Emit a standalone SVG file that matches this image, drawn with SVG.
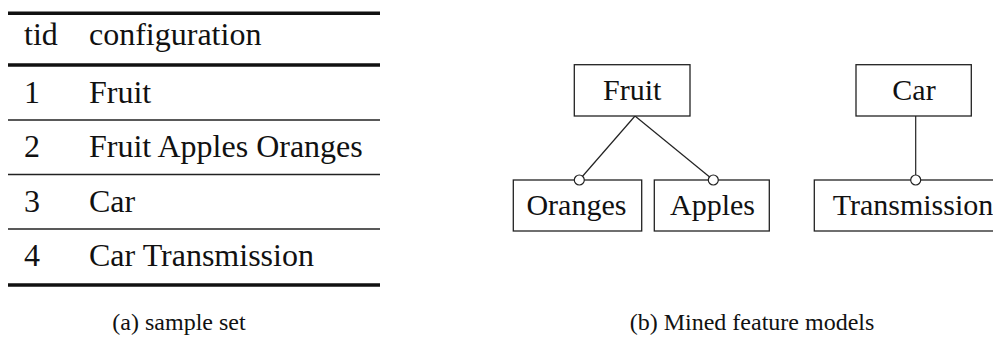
<svg xmlns="http://www.w3.org/2000/svg" width="993" height="342" viewBox="0 0 993 342">
<style>
text{font-family:'Liberation Serif','Tinos','DejaVu Serif','Times New Roman',serif;fill:#111}
.tb{font-size:32px}
.nd{font-size:30px;text-anchor:middle}
.cap{font-size:24px;text-anchor:middle}
.thick{stroke:#111;stroke-width:3.4}
.thin{stroke:#222;stroke-width:1.3}
.box{fill:#fff;stroke:#222;stroke-width:1.3}
.edge{stroke:#222;stroke-width:1.2;fill:none}
.opt{fill:#fff;stroke:#222;stroke-width:1.2}
</style>
<rect width="993" height="342" fill="#fff"/>
<g id="table">
<line class="thick" x1="8" y1="13.3" x2="380" y2="13.3"/>
<line class="thick" x1="8" y1="65" x2="380" y2="65"/>
<line class="thin" x1="8" y1="120" x2="380" y2="120"/>
<line class="thin" x1="8" y1="174.5" x2="380" y2="174.5"/>
<line class="thin" x1="8" y1="229" x2="380" y2="229"/>
<line class="thick" x1="8" y1="285" x2="380" y2="285"/>
<text class="tb" x="24" y="45">tid</text>
<text class="tb" x="89" y="45">configuration</text>
<text class="tb" x="24" y="103">1</text>
<text class="tb" x="89" y="103">Fruit</text>
<text class="tb" x="24" y="157">2</text>
<text class="tb" x="89" y="157">Fruit Apples Oranges</text>
<text class="tb" x="24" y="212">3</text>
<text class="tb" x="89" y="212">Car</text>
<text class="tb" x="24" y="266">4</text>
<text class="tb" x="89" y="266">Car Transmission</text>
</g>
<g id="connectors">
<line class="edge" x1="635" y1="116" x2="579.3" y2="180"/>
<line class="edge" x1="635" y1="116" x2="713.3" y2="180"/>
<line class="edge" x1="915.7" y1="116" x2="915.7" y2="180"/>
</g>
<g id="fruit">
<rect class="box" x="574.3" y="64.7" width="115.7" height="51.3"/>
<text class="nd" x="632.2" y="100">Fruit</text>
</g>
<g id="oranges">
<rect class="box" x="513.3" y="180" width="128.4" height="51"/>
<text class="nd" x="576.4" y="215">Oranges</text>
</g>
<g id="apples">
<rect class="box" x="654.3" y="180" width="115" height="51"/>
<text class="nd" x="712.5" y="215">Apples</text>
</g>
<g id="car">
<rect class="box" x="856" y="64.7" width="115.3" height="51.3"/>
<text class="nd" x="914" y="100">Car</text>
</g>
<g id="transmission">
<rect class="box" x="814.3" y="180" width="202.8" height="51"/>
<text class="nd" x="913" y="215">Transmission</text>
</g>
<g id="markers">
<circle class="opt" cx="579.3" cy="180" r="5"/>
<circle class="opt" cx="713.3" cy="180" r="5"/>
<circle class="opt" cx="915.7" cy="180" r="5"/>
</g>
<g id="captions">
<text class="cap" x="179" y="330">(a) sample set</text>
<text class="cap" x="752" y="330">(b) Mined feature models</text>
</g>
</svg>
